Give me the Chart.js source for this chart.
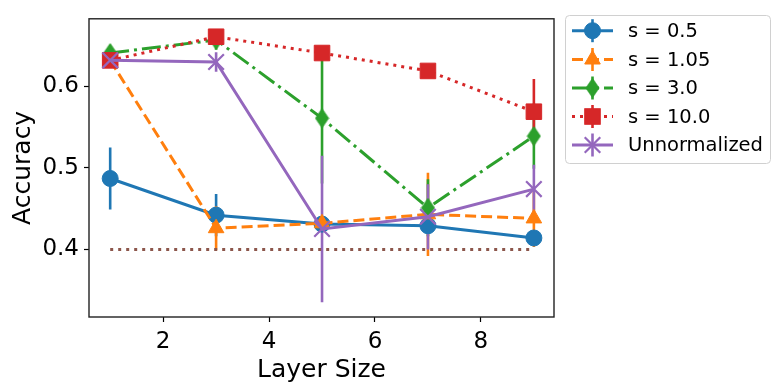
<!DOCTYPE html>
<html><head><meta charset="utf-8">
<script src="https://cdn.jsdelivr.net/npm/chart.js@4"></script>
<style>html,body{margin:0;padding:0;background:#fff}canvas{display:block}</style>
</head><body>
<canvas id="c" width="781" height="392"></canvas>
<script>
// ---- data ----
const layerSizes = [1, 3, 5, 7, 9];
const xTicks = [2, 4, 6, 8];
const yTicks = [0.4, 0.5, 0.6];
const seriesLabels = ['s = 0.5', 's = 1.05', 's = 3.0', 's = 10.0', 'Unnormalized'];
const acc_s05   = [0.487, 0.442, 0.431, 0.429, 0.414];
const err_s05   = [0.038, 0.026, 0.008, 0.008, 0.007];
const acc_s105  = [0.632, 0.426, 0.432, 0.443, 0.438];
const err_s105  = [0.008, 0.027, 0.008, 0.051, 0.035];
const acc_s3    = [0.641, 0.657, 0.561, 0.451, 0.539];
const err_s3    = [0.005, 0.012, 0.080, 0.035, 0.040];
const acc_s10   = [0.632, 0.661, 0.641, 0.619, 0.569];
const err_s10   = [0.005, 0.006, 0.006, 0.006, 0.040];
const acc_unnorm = [0.632, 0.630, 0.425, 0.440, 0.474];
const err_unnorm = [0.004, 0.012, 0.090, 0.040, 0.030];
const baselineX = [1, 9];
const baselineY = [0.4, 0.4];

// ---- styles ----
const colors = ['#1f77b4', '#ff7f0e', '#2ca02c', '#d62728', '#9467bd'];
const dashes = [[], [11, 5], [19, 5, 3, 5], [3, 5], []];

function thinDiamond(color) {
  const c = document.createElement('canvas');
  c.width = 15; c.height = 21;
  const g = c.getContext('2d');
  g.fillStyle = color; g.strokeStyle = color; g.lineWidth = 1;
  g.beginPath();
  g.moveTo(7.5, 1); g.lineTo(14, 10.5); g.lineTo(7.5, 20); g.lineTo(1, 10.5); g.closePath();
  g.fill(); g.stroke();
  return c;
}
const diamondImg = thinDiamond(colors[2]);
const pointStyles = ['circle', 'triangle', diamondImg, 'rect', 'crossRot'];
const pointRadii = [8, 9, 8, 11, 11];

const accs = [acc_s05, acc_s105, acc_s3, acc_s10, acc_unnorm];
const errs = [err_s05, err_s105, err_s3, err_s10, err_unnorm];

const datasets = accs.map((arr, i) => ({
  label: seriesLabels[i],
  data: layerSizes.map((x, j) => ({x: x, y: arr[j]})),
  borderColor: colors[i],
  backgroundColor: colors[i],
  borderWidth: 3,
  borderDash: dashes[i],
  pointStyle: pointStyles[i],
  pointRadius: pointRadii[i],
  pointBorderWidth: i === 4 ? 2.2 : 1,
  pointBorderColor: colors[i],
  pointBackgroundColor: colors[i],
  tension: 0,
  fill: false,
  order: 4 - i,
  errs: errs[i]
}));
datasets.push({
  label: 'baseline',
  data: baselineX.map((x, j) => ({x: x, y: baselineY[j]})),
  borderColor: '#8c564b',
  borderWidth: 3,
  borderDash: [3, 5],
  pointRadius: 0,
  fill: false,
  order: 10
});

const errorBars = {
  id: 'errorBars',
  beforeDatasetsDraw(chart) {
    const ctx = chart.ctx, xs = chart.scales.x, ys = chart.scales.y, a = chart.chartArea;
    ctx.save();
    ctx.beginPath(); ctx.rect(a.left, a.top, a.right - a.left, a.bottom - a.top); ctx.clip();
    chart.data.datasets.forEach(ds => {
      if (!ds.errs) return;
      ctx.strokeStyle = ds.borderColor; ctx.lineWidth = 2.6; ctx.setLineDash([]);
      ds.data.forEach((p, j) => {
        const e = ds.errs[j];
        const px = xs.getPixelForValue(p.x);
        ctx.beginPath();
        ctx.moveTo(px, ys.getPixelForValue(p.y - e));
        ctx.lineTo(px, ys.getPixelForValue(p.y + e));
        ctx.stroke();
      });
    });
    ctx.restore();
  }
};

function drawMarker(ctx, style, r, x, y, color) {
  ctx.save();
  ctx.fillStyle = color; ctx.strokeStyle = color; ctx.setLineDash([]);
  if (style instanceof HTMLCanvasElement) {
    ctx.drawImage(style, x - style.width / 2, y - style.height / 2);
  } else if (style === 'circle') {
    ctx.lineWidth = 1; ctx.beginPath(); ctx.arc(x, y, r, 0, Math.PI * 2); ctx.fill(); ctx.stroke();
  } else if (style === 'triangle') {
    ctx.lineWidth = 1; ctx.beginPath();
    const s = r * Math.sqrt(3) / 2;
    ctx.moveTo(x, y - r); ctx.lineTo(x + s, y + r / 2); ctx.lineTo(x - s, y + r / 2); ctx.closePath();
    ctx.fill(); ctx.stroke();
  } else if (style === 'rect') {
    const h = r * Math.SQRT1_2; ctx.lineWidth = 1;
    ctx.fillRect(x - h, y - h, 2 * h, 2 * h); ctx.strokeRect(x - h, y - h, 2 * h, 2 * h);
  } else if (style === 'crossRot') {
    const h = r * Math.SQRT1_2; ctx.lineWidth = 2.2; ctx.beginPath();
    ctx.moveTo(x - h, y - h); ctx.lineTo(x + h, y + h);
    ctx.moveTo(x - h, y + h); ctx.lineTo(x + h, y - h); ctx.stroke();
  }
  ctx.restore();
}

const framePlugin = {
  id: 'frameAndLegend',
  afterDraw(chart) {
    const ctx = chart.ctx, a = chart.chartArea;
    ctx.save();
    ctx.strokeStyle = '#222'; ctx.lineWidth = 1.4; ctx.setLineDash([]);
    ctx.strokeRect(a.left, a.top, a.right - a.left, a.bottom - a.top);
    // legend
    const bx = 565.5, by = 15.5, bw = 205, bh = 148, rr = 4;
    ctx.beginPath();
    ctx.moveTo(bx + rr, by); ctx.lineTo(bx + bw - rr, by); ctx.quadraticCurveTo(bx + bw, by, bx + bw, by + rr);
    ctx.lineTo(bx + bw, by + bh - rr); ctx.quadraticCurveTo(bx + bw, by + bh, bx + bw - rr, by + bh);
    ctx.lineTo(bx + rr, by + bh); ctx.quadraticCurveTo(bx, by + bh, bx, by + bh - rr);
    ctx.lineTo(bx, by + rr); ctx.quadraticCurveTo(bx, by, bx + rr, by); ctx.closePath();
    ctx.fillStyle = 'rgba(255,255,255,0.8)'; ctx.fill();
    ctx.strokeStyle = '#d0d0d0'; ctx.lineWidth = 1; ctx.stroke();
    const rows = [30.7, 59.5, 88, 116.5, 145];
    ctx.font = '19.5px "DejaVu Sans"'; ctx.textBaseline = 'middle'; ctx.textAlign = 'left';
    chart.data.datasets.slice(0, 5).forEach((ds, i) => {
      const y = rows[i];
      ctx.strokeStyle = ds.borderColor; ctx.lineWidth = 3; ctx.setLineDash(ds.borderDash || []);
      ctx.beginPath(); ctx.moveTo(572, y); ctx.lineTo(613, y); ctx.stroke();
      ctx.setLineDash([]); ctx.lineWidth = 2.6;
      ctx.beginPath(); ctx.moveTo(592.5, y - 11.5); ctx.lineTo(592.5, y + 11.5); ctx.stroke();
      drawMarker(ctx, ds.pointStyle, ds.pointRadius, 592.5, y, ds.borderColor);
      ctx.fillStyle = '#000';
      ctx.fillText(ds.label, 628, y + 1);
    });
    ctx.restore();
  }
};

new Chart(document.getElementById('c'), {
  type: 'line',
  data: { datasets: datasets },
  plugins: [errorBars, framePlugin],
  options: {
    responsive: false,
    animation: false,
    events: [],
    layout: { padding: { left: 0, top: 15, right: 227, bottom: 0 } },
    plugins: { legend: { display: false }, tooltip: { enabled: false } },
    scales: {
      x: {
        type: 'linear', min: 0.6, max: 9.38,
        afterBuildTicks: s => { s.ticks = xTicks.map(v => ({value: v})); },
        afterFit: s => { s.height = 75; },
        grid: { display: true, drawOnChartArea: false, drawTicks: true, tickLength: 5, tickColor: '#000', tickWidth: 1.2 },
        border: { display: false },
        ticks: { color: '#000', font: { family: 'DejaVu Sans', size: 23 }, padding: 6, maxRotation: 0, callback: v => String(v) },
        title: { display: true, text: 'Layer Size', color: '#000', font: { family: 'DejaVu Sans', size: 25 }, padding: { top: 0, bottom: 7 } }
      },
      y: {
        type: 'linear', min: 0.317, max: 0.683,
        afterBuildTicks: s => { s.ticks = yTicks.map(v => ({value: v})); },
        afterFit: s => { s.width = 89; },
        grid: { display: true, drawOnChartArea: false, drawTicks: true, tickLength: 5, tickColor: '#000', tickWidth: 1.2 },
        border: { display: false },
        ticks: { color: '#000', font: { family: 'DejaVu Sans', size: 23 }, padding: 5, callback: v => v.toFixed(1) },
        title: { display: true, text: 'Accuracy', color: '#000', font: { family: 'DejaVu Sans', size: 25 }, padding: { top: 8, bottom: 0 } }
      }
    }
  }
});
</script>
</body></html>
